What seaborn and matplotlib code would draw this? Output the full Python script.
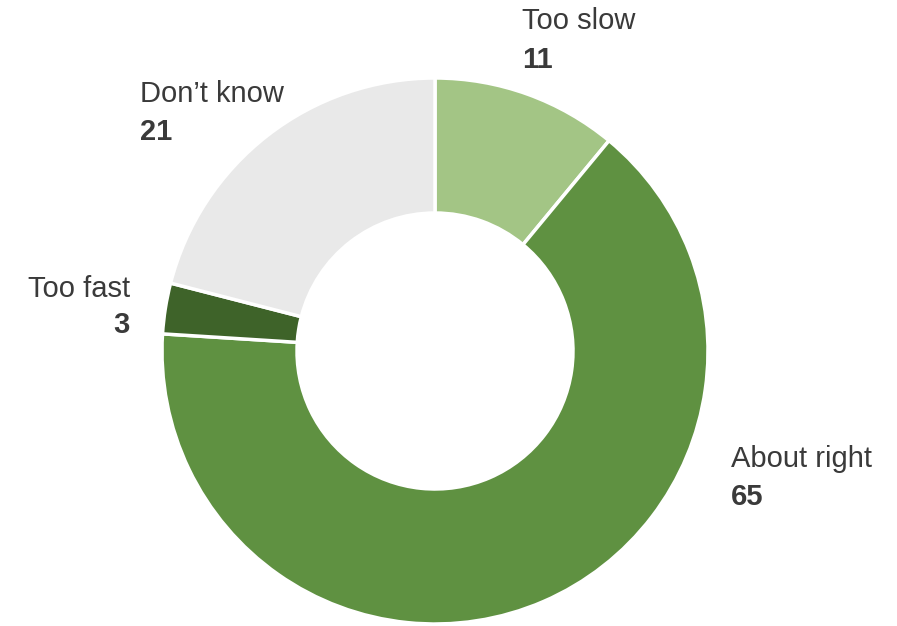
import matplotlib
matplotlib.use("Agg")
import matplotlib.pyplot as plt
import seaborn as sns

categories = ["Too slow", "About right", "Too fast", "Don\u2019t know"]
values = [11, 65, 3, 21]
colors = ["#a3c585", "#5f9141", "#3e6329", "#e9e9e9"]

sns.set_theme(style="white")
plt.rcParams['font.family'] = ['Liberation Sans', 'DejaVu Sans']

W, H = 897, 626
fig = plt.figure(figsize=(W / 100, H / 100), dpi=100)
ax = fig.add_axes([0, 0, 1, 1])
ax.set_xlim(0, W)
ax.set_ylim(0, H)
ax.set_aspect('equal')
ax.axis('off')

cx, cy, R = 435, H - 351, 273
ax.pie(values, colors=colors, startangle=90, counterclock=False,
       center=(cx, cy), radius=R, frame=True,
       wedgeprops=dict(width=R - 138, edgecolor='white', linewidth=2.5))
ax.set_xlim(0, W)
ax.set_ylim(0, H)
ax.axis('off')

txt = "#3a3a3a"
# (x, name baseline, value baseline, ha)
label_pos = [(522, 29, 68, 'left'), (731, 467, 505, 'left'),
             (130, 297, 333, 'right'), (140, 102, 140, 'left')]
for cat, val, (x, y1, y2, ha) in zip(categories, values, label_pos):
    ax.text(x, H - y1, cat, ha=ha, va='baseline', fontsize=21, color=txt)
    ax.text(x, H - y2, str(val), ha=ha, va='baseline', fontsize=21,
            fontweight='bold', color=txt)

fig.savefig("out.png", dpi=100)
